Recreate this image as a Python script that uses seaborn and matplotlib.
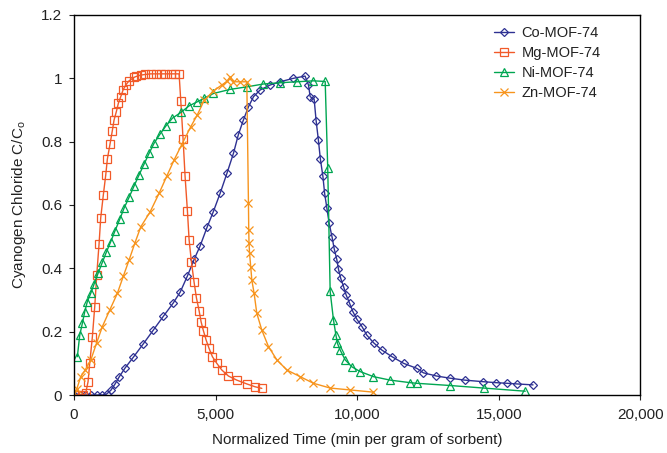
import numpy as np
import pandas as pd
import matplotlib
matplotlib.use("Agg")
import matplotlib.pyplot as plt
from matplotlib.ticker import FuncFormatter, MultipleLocator
import seaborn as sns

# Breakthrough curves
co_time = [0, 200, 400, 600, 800, 1000, 1150, 1300, 1450, 1600, 1800, 2100, 2450, 2800,
           3150, 3500, 3750, 4000, 4250, 4450, 4700, 4920, 5160, 5400, 5630, 5800, 5980,
           6160, 6340, 6570, 6930, 7280, 7750, 8160, 8280, 8340, 8480, 8550, 8630, 8700,
           8790, 8850, 8930, 9010, 9110, 9190, 9280, 9340, 9420, 9520, 9610, 9730, 9850,
           9990, 10170, 10340, 10580, 10870, 11230, 11640, 12110, 12340, 12800, 13290,
           13800, 14460, 14900, 15300, 15640, 16210]
co_conc = [0, 0, 0, 0, 0, 0, 0.003, 0.015, 0.035, 0.058, 0.085, 0.12, 0.162, 0.205,
           0.248, 0.29, 0.325, 0.375, 0.43, 0.47, 0.53, 0.579, 0.637, 0.7, 0.763, 0.821, 0.868,
           0.91, 0.942, 0.963, 0.979, 0.989, 1.0, 1.007, 0.979, 0.942, 0.934, 0.866, 0.805, 0.745,
           0.69, 0.637, 0.59, 0.542, 0.5, 0.461, 0.428, 0.397, 0.368, 0.342, 0.316, 0.29, 0.263,
           0.239, 0.216, 0.189, 0.165, 0.142, 0.121, 0.1, 0.084, 0.07, 0.06, 0.053,
           0.047, 0.042, 0.039, 0.037, 0.035, 0.032]

mg_time = [0, 150, 300, 410, 495, 554, 648, 731, 802, 883, 943, 1035, 1120, 1177, 1272,
           1353, 1413, 1495, 1565, 1650, 1731, 1827, 1943, 2120, 2200, 2357, 2500, 2710, 2900,
           3064, 3200, 3417, 3550, 3710, 3770, 3852, 3922, 4004, 4064, 4145, 4240, 4322, 4417,
           4488, 4569, 4664, 4770, 4887, 5042, 5219, 5452, 5749, 6102, 6396, 6632]
mg_conc = [0, 0, 0, 0.005, 0.042, 0.1, 0.184, 0.279, 0.379, 0.476, 0.56, 0.632, 0.695, 0.745,
           0.793, 0.835, 0.868, 0.895, 0.921, 0.942, 0.963, 0.979, 0.992, 1.003, 1.006, 1.01,
           1.012, 1.014, 1.014, 1.014, 1.014, 1.014, 1.014, 1.014, 0.929, 0.807, 0.69, 0.582,
           0.49, 0.421, 0.356, 0.307, 0.266, 0.231, 0.203, 0.174, 0.147, 0.121, 0.1, 0.079,
           0.06, 0.047, 0.035, 0.026, 0.021]

ni_time = [117, 201, 293, 378, 470, 590, 707, 848, 1000, 1141, 1296, 1449, 1615, 1767, 1943,
           2120, 2297, 2473, 2650, 2827, 3039, 3240, 3474, 3770, 4064, 4357, 4594, 4922, 5512,
           6102, 6689, 7279, 7869, 8456, 8870, 8960, 9046, 9163, 9250, 9304, 9399, 9576, 9813,
           10106, 10576, 11166, 11873, 12108, 13286, 14463, 15936]
ni_conc = [0.121, 0.189, 0.226, 0.263, 0.295, 0.321, 0.35, 0.384, 0.419, 0.451, 0.484, 0.519,
           0.555, 0.59, 0.624, 0.66, 0.695, 0.729, 0.763, 0.795, 0.824, 0.849, 0.874, 0.892,
           0.913, 0.926, 0.937, 0.952, 0.965, 0.973, 0.982, 0.986, 0.989, 0.992, 0.99, 0.716,
           0.327, 0.237, 0.189, 0.163, 0.142, 0.111, 0.089, 0.074, 0.058, 0.047, 0.039, 0.037,
           0.03, 0.022, 0.012]

zn_time = [0, 100, 237, 400, 590, 800, 1000, 1270, 1530, 1740, 1943, 2150, 2357, 2686, 3004,
           3270, 3534, 3800, 4122, 4357, 4594, 4922, 5219, 5400, 5512, 5629, 5850, 6102, 6160,
           6170, 6180, 6200, 6240, 6279, 6360, 6455, 6632, 6866, 7163, 7516, 7986, 8456, 9046,
           9753, 10576]
zn_conc = [0.006, 0.02, 0.058, 0.08, 0.11, 0.165, 0.216, 0.27, 0.321, 0.375, 0.426, 0.48,
           0.531, 0.578, 0.637, 0.69, 0.742, 0.79, 0.847, 0.885, 0.93, 0.96, 0.979, 0.99, 1.005,
           0.989, 0.989, 0.989, 0.605, 0.521, 0.479, 0.447, 0.405, 0.363, 0.321, 0.258, 0.205,
           0.153, 0.111, 0.079, 0.058, 0.037, 0.022, 0.016, 0.009]

series = [
    ("Co-MOF-74", co_time, co_conc, "#2e3192", "D", 4.0),
    ("Mg-MOF-74", mg_time, mg_conc, "#f15a29", "s", 5.5),
    ("Ni-MOF-74", ni_time, ni_conc, "#00a651", "^", 5.5),
    ("Zn-MOF-74", zn_time, zn_conc, "#f7941d", "x", 5.5),
]

sns.set_style("ticks")
plt.rcParams["font.family"] = ["Liberation Sans", "DejaVu Sans"]

fig, ax = plt.subplots(figsize=(6.67, 4.53), dpi=100)
fig.subplots_adjust(left=0.111, right=0.960, top=0.967, bottom=0.128)

for name, t, c, color, mk, ms in series:
    df = pd.DataFrame({"time": t, "conc": c})
    sns.lineplot(data=df, x="time", y="conc", ax=ax, color=color, marker=mk,
                 markersize=ms, mfc="none", mec=color, mew=0.9, lw=1.0,
                 estimator=None, sort=False, label=name)

ax.set_xlim(0, 20000)
ax.set_ylim(0, 1.2)
ax.xaxis.set_major_locator(MultipleLocator(5000))
ax.yaxis.set_major_locator(MultipleLocator(0.2))
ax.xaxis.set_major_formatter(FuncFormatter(lambda v, p: f"{v:,.0f}"))
ax.yaxis.set_major_formatter(FuncFormatter(lambda v, p: f"{v:g}"))
ax.tick_params(axis="both", labelsize=11, colors="#222222", length=3.6, width=0.8,
               direction="out", pad=5)
ax.tick_params(axis="x", pad=6)
for s in ax.spines.values():
    s.set_color("black")
    s.set_linewidth(1.0)

ax.set_xlabel("Normalized Time (min per gram of sorbent)", fontsize=11, color="#222222",
              labelpad=8)
ax.set_ylabel("Cyanogen Chloride C/C$_\\mathregular{o}$", fontsize=11, color="#222222",
              labelpad=9)

ax.legend(loc="upper left", bbox_to_anchor=(0.719, 1.005), frameon=False, fontsize=10.5,
          handlelength=1.37, handletextpad=0.48, labelspacing=0.4, labelcolor="#222222")

fig.savefig("out.png", dpi=100)
